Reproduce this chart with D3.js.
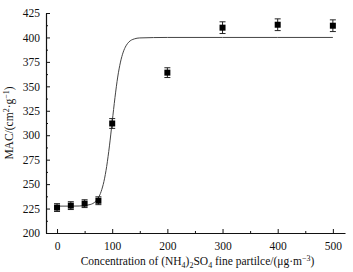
<!DOCTYPE html>
<html>
<head>
<meta charset="utf-8">
<script src="https://cdn.jsdelivr.net/npm/d3@7"></script>
<style>
	body { margin: 0; background: #fff; }
	svg text { font-family: "Liberation Serif", "DejaVu Serif", serif; fill: #111; }
</style>
</head>
<body>
<div id="chart"></div>
<script>
// measured points
const concentration = [0, 25, 50, 75, 100, 200, 300, 400, 500]
const mac = [226, 228, 230, 233, 312, 364, 410, 413, 412]
const macErr = [4, 4, 4, 4, 5, 5, 6, 6, 6]

// fitted curve
const fitX = [0, 20, 40, 60, 70, 75, 80, 85, 90, 95, 100, 105, 110, 115, 120, 125, 130, 140, 150, 200, 300, 400, 500]
const fitY = [227.5, 227.5, 227.6, 229.1, 232.4, 236.1, 242.5, 252.7, 268.1, 289.1, 313.7, 338.4, 359.5, 374.8, 385.0, 391.4, 395.2, 398.5, 399.5, 400, 400, 400, 400]

const xTicks = [0, 100, 200, 300, 400, 500]
const yTicks = [200, 225, 250, 275, 300, 325, 350, 375, 400, 425]

const W = 353, H = 272
const margin = { top: 13, right: 8, bottom: 39, left: 46 }

const svg = d3.select("#chart").append("svg")
	.attr("width", W)
	.attr("height", H)

const x = d3.scaleLinear().domain([-20, 522]).range([margin.left, W - margin.right])
const y = d3.scaleLinear().domain([200, 425]).range([H - margin.bottom, margin.top])

// X axis (ticks point inward)
const xAxis = svg.append("g")
	.attr("transform", `translate(0,${y(200)})`)
	.call(d3.axisBottom(x).tickValues(xTicks).tickSize(-4).tickPadding(9).tickSizeOuter(0))
xAxis.append("g")
	.call(d3.axisBottom(x).tickValues([50, 150, 250, 350, 450]).tickSize(-2).tickFormat("").tickSizeOuter(0))
	.select(".domain").remove()

// Y axis
const yAxis = svg.append("g")
	.attr("transform", `translate(${x(-20)},0)`)
	.call(d3.axisLeft(y).tickValues(yTicks).tickSize(-4).tickPadding(6).tickSizeOuter(0))
yAxis.append("g")
	.call(d3.axisLeft(y).tickValues(d3.range(212.5, 425, 25)).tickSize(-2).tickFormat("").tickSizeOuter(0))
	.select(".domain").remove()

svg.selectAll(".domain").attr("stroke", "#111").attr("stroke-width", 1.2)
svg.selectAll(".tick line").attr("stroke", "#111")
svg.selectAll(".tick text").style("font-size", "11.5px").attr("fill", "#111")

// fitted curve
svg.append("path")
	.datum(fitX.map((d, i) => [d, fitY[i]]))
	.attr("fill", "none")
	.attr("stroke", "#444")
	.attr("stroke-width", 1)
	.attr("d", d3.line().x(d => x(d[0])).y(d => y(d[1])).curve(d3.curveMonotoneX))

// error bars + markers
const pts = svg.append("g")
concentration.forEach((c, i) => {
	const cx = x(c)
	const g = pts.append("g").attr("stroke", "#222").attr("stroke-width", 1)
	g.append("line").attr("x1", cx).attr("x2", cx).attr("y1", y(mac[i] - macErr[i])).attr("y2", y(mac[i] + macErr[i]))
	g.append("line").attr("x1", cx - 3).attr("x2", cx + 3).attr("y1", y(mac[i] - macErr[i])).attr("y2", y(mac[i] - macErr[i]))
	g.append("line").attr("x1", cx - 3).attr("x2", cx + 3).attr("y1", y(mac[i] + macErr[i])).attr("y2", y(mac[i] + macErr[i]))
	pts.append("rect")
		.attr("x", cx - 3).attr("y", y(mac[i]) - 3)
		.attr("width", 6).attr("height", 6)
		.attr("fill", "#000")
})

// axis labels
const xl = svg.append("text")
	.attr("x", (x(-20) + x(522)) / 2 + 2)
	.attr("y", 265)
	.attr("text-anchor", "middle")
	.style("font-size", "11.5px")
xl.append("tspan").text("Concentration of (NH")
xl.append("tspan").text("4").attr("dy", 3).style("font-size", "8px")
xl.append("tspan").text(")").attr("dy", -3)
xl.append("tspan").text("2").attr("dy", 3).style("font-size", "8px")
xl.append("tspan").text("SO").attr("dy", -3)
xl.append("tspan").text("4").attr("dy", 3).style("font-size", "8px")
xl.append("tspan").text(" fine partilce/(μg·m").attr("dy", -3)
xl.append("tspan").text("−3").attr("dy", -4).style("font-size", "8px")
xl.append("tspan").text(")").attr("dy", 4)

const yl = svg.append("text")
	.attr("transform", `translate(13,${(y(200) + y(425)) / 2}) rotate(-90)`)
	.attr("text-anchor", "middle")
	.style("font-size", "11.5px")
yl.append("tspan").text("MAC/(cm")
yl.append("tspan").text("2").attr("dy", -4).style("font-size", "8px")
yl.append("tspan").text("·g").attr("dy", 4)
yl.append("tspan").text("−1").attr("dy", -4).style("font-size", "8px")
yl.append("tspan").text(")").attr("dy", 4)
</script>
</body>
</html>
